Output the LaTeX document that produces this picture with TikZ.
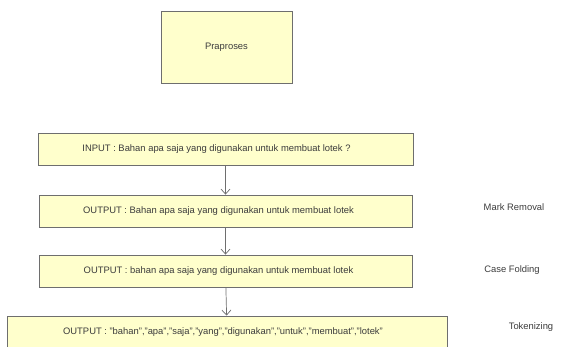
\documentclass[tikz,border=0pt]{standalone}
\usepackage{fontspec}
\setmainfont{Liberation Sans}
\usetikzlibrary{arrows.meta,positioning}

\definecolor{boxfill}{HTML}{FFFFCC}
\definecolor{boxline}{HTML}{6E6E6E}
\definecolor{txtgray}{HTML}{3C3C3C}

\begin{document}
\begin{tikzpicture}[
  x=1pt, y=-1pt,
  every node/.style={font=\fontsize{9.4}{11}\selectfont, text=txtgray},
  procbox/.style={draw=boxline, fill=boxfill, line width=0.8pt, inner sep=2pt},
  flow/.style={draw=boxline, line width=0.7pt,
               -{Straight Barb[length=5pt,width=9pt]}},
  steplbl/.style={inner sep=1pt}
]
\useasboundingbox (0,0) rectangle (568,347);

\node[procbox, minimum width=131pt, minimum height=72pt] (pra) at (226.5,47) {Praproses};

\node[procbox, minimum width=375pt, minimum height=32pt] (in)   at (225.5,149) {INPUT : Bahan apa saja yang digunakan untuk membuat lotek ?\hspace*{18pt}};
\node[procbox, minimum width=373pt, minimum height=32pt] (mark) at (225.5,211) {OUTPUT : Bahan apa saja yang digunakan untuk membuat lotek\hspace*{14pt}};
\node[procbox, minimum width=373pt, minimum height=32pt] (fold) at (225.5,271) {OUTPUT : bahan apa saja yang digunakan untuk membuat lotek\hspace*{14pt}};
\node[procbox, minimum width=440pt, minimum height=32pt] (tok)  at (227,332) {OUTPUT : "bahan","apa","saja","yang","digunakan","untuk","membuat","lotek"\hspace*{8pt}};

% step names on the right
\node[steplbl] (lmark) at (514,207) {Mark Removal};
\node[steplbl] (lfold) at (512,270) {Case Folding};
\node[steplbl] (ltok)  at (531,327) {Tokenizing};

\draw[flow] (in)   -- (mark);
\draw[flow] (mark) -- (fold);
\draw[flow] (fold) -- (tok);
\end{tikzpicture}
\end{document}
